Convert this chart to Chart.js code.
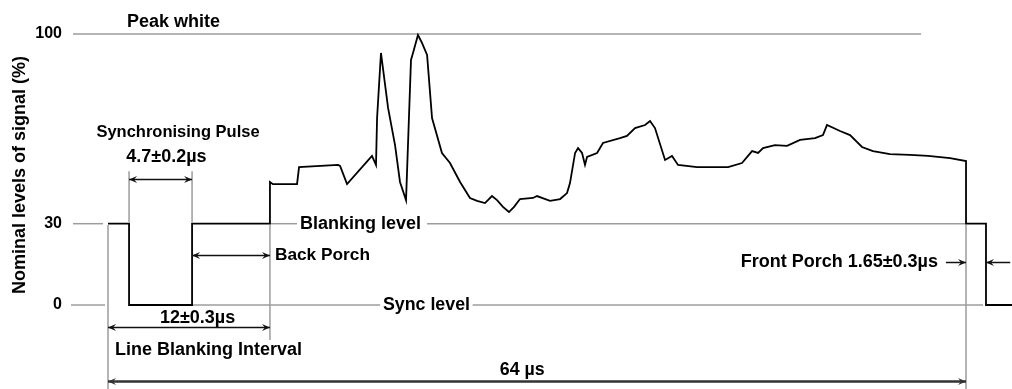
<!DOCTYPE html>
<html><head><meta charset="utf-8">
<script src="https://cdn.jsdelivr.net/npm/chart.js@4.4.1/dist/chart.umd.min.js"></script>
<style>html,body{margin:0;padding:0;background:#fff;overflow:hidden;}</style>
</head><body>
<canvas id="c" width="1012" height="389"></canvas>
<script>
// ---- data (time in microseconds, level in % of nominal signal) ----
const timeUs = [0, 1.57, 1.57, 6.27, 6.27, 12.08, 12.08, 12.3, 14.1, 14.25, 17.16, 17.31, 17.83, 19.69, 19.99, 20.07, 20.36,
  20.89, 21.41, 21.78, 22.23, 22.6, 22.75, 23.12, 23.42, 23.80, 24.17, 24.91, 25.51, 26.26, 27.00, 27.53, 28.12, 28.64, 29.02,
  29.46, 29.91, 30.29, 30.73, 31.70, 32.00, 32.97, 33.72, 34.24, 34.46, 34.84, 35.06, 35.36, 35.58, 35.73, 36.48, 36.92, 38.19,
  38.71, 39.31, 40.06, 40.43, 40.80, 41.55, 42.07, 42.52, 43.94, 46.25, 47.29, 48.04, 48.49, 48.86, 49.75, 50.65, 51.62, 52.74,
  53.33, 53.63, 54.60, 55.35, 56.24, 57.06, 58.33, 59.82, 61.17, 62.81, 64.0, 64.0, 65.49, 65.49, 67.43];
const levelPct = [30, 30, 0, 0, 30, 30, 45.4, 44.6, 44.6, 50.9, 51.7, 51.3, 44.6, 55.0, 51.7, 69.0, 93.0,
  72.7, 59.0, 45.4, 38.7, 90.4, 93.0, 99.6, 96.7, 92.3, 69.0, 56.1, 52.4, 45.4, 39.5, 38.4, 37.6, 40.2, 38.7,
  36.2, 34.3, 36.2, 39.1, 39.5, 40.2, 38.4, 39.1, 41.3, 45.0, 56.1, 57.9, 56.1, 51.7, 54.6, 56.1, 59.8, 61.6,
  62.4, 65.3, 66.4, 67.9, 65.3, 53.5, 55.0, 51.7, 50.9, 50.9, 52.4, 56.8, 56.1, 57.9, 59.0, 58.7, 60.9, 61.6,
  62.7, 66.4, 64.2, 62.7, 58.3, 56.8, 55.7, 55.4, 55.0, 54.2, 53.1, 30, 30, 0, 0];
const yTickValues = [0, 30, 100];
const yTitle = 'Nominal levels of signal (%)';

// reference levels: [level, startUs, endUs]
const refLevel = [100, 30, 30, 30, 0, 0, 0];
const refStart = [-2.61, -2.61, 12.08, 23.8, -2.76, 6.27, 27.2];
const refEnd   = [60.65, -0.37, 14.1, 64.0, -0.22, 20.3, 65.27];

// vertical guide lines
const guideTime   = [0, 1.57, 6.27, 12.08, 64.0];
const guideTop    = [29.5, 49.4, 49.4, 29.5, 29.5];
const guideBottom = [-31, 30.5, 30.5, -12.9, -31];

// dimension arrows
const arrowFrom  = [1.57, 6.27, 0, 0, 62.5, 67.3];
const arrowTo    = [6.27, 12.08, 12.08, 64.0, 64.0, 65.49];
const arrowLevel = [46.5, 18.5, -8.1, -28.0, 15.9, 15.9];
const arrowBoth  = [true, true, true, true, false, false];

// annotation texts
const labelText  = ['Peak white', 'Synchronising Pulse', '4.7\u00B10.2\u00B5s', 'Blanking level', 'Back Porch',
  'Sync level', '12\u00B10.3\u00B5s', 'Line Blanking Interval', '64 \u00B5s', 'Front Porch 1.65\u00B10.3\u00B5s'];
const labelTime  = [1.42, 5.22, 4.36, 14.32, 12.45, 20.51, 6.68, 0.52, 30.9, 61.91];
const labelLevel = [104.4, 63.5, 54.6, 30, 18.5, 0, -4.8, -16.6, -24.0, 15.9];
const labelAlign = ['left', 'center', 'center', 'left', 'left', 'left', 'center', 'left', 'center', 'right'];
const labelSize  = [18, 16.5, 18, 18, 17.3, 17.8, 18, 18, 17.8, 18];

const FONT = '"Liberation Sans", Arial, sans-serif';
const GREY = '#9c9c9c';

const datasets = [{
  data: timeUs.map((t, i) => ({x: t, y: levelPct[i]})),
  borderColor: '#000', borderWidth: 1.8, pointRadius: 0, tension: 0, order: 0
}];
refLevel.forEach((lv, i) => {
  datasets.push({
    data: [{x: refStart[i], y: lv}, {x: refEnd[i], y: lv}],
    borderColor: GREY, borderWidth: 1.5, pointRadius: 0, order: 1
  });
});

function arrowHead(ctx, xTip, yv, dir) {
  ctx.beginPath();
  ctx.moveTo(xTip, yv);
  ctx.lineTo(xTip - dir * 8, yv - 3.5);
  ctx.lineTo(xTip - dir * 5, yv);
  ctx.lineTo(xTip - dir * 8, yv + 3.5);
  ctx.closePath();
  ctx.fill();
}

const annot = {
  id: 'annot',
  beforeDatasetsDraw(chart) {
    const {ctx, scales: {x, y}} = chart;
    ctx.save();
    ctx.strokeStyle = GREY; ctx.lineWidth = 1.5;
    guideTime.forEach((t, i) => {
      const px = x.getPixelForValue(t);
      ctx.beginPath();
      ctx.moveTo(px, y.getPixelForValue(guideTop[i]));
      ctx.lineTo(px, y.getPixelForValue(guideBottom[i]));
      ctx.stroke();
    });
    ctx.restore();
  },
  afterDraw(chart) {
    const {ctx, scales: {x, y}} = chart;
    ctx.save();
    arrowFrom.forEach((f, i) => {
      const x1 = x.getPixelForValue(f), x2 = x.getPixelForValue(arrowTo[i]);
      const yy = Math.round(y.getPixelForValue(arrowLevel[i])) + 0.5;
      const big = i === 3;
      ctx.strokeStyle = big ? '#333' : '#111';
      ctx.fillStyle = big ? '#333' : '#111';
      ctx.lineWidth = big ? 2.5 : 1.5;
      ctx.beginPath(); ctx.moveTo(x1, yy); ctx.lineTo(x2, yy); ctx.stroke();
      const dir = x2 > x1 ? 1 : -1;
      arrowHead(ctx, x2, yy, dir);
      if (arrowBoth[i]) arrowHead(ctx, x1, yy, -dir);
    });
    ctx.fillStyle = '#000';
    ctx.textBaseline = 'middle';
    labelText.forEach((s, i) => {
      ctx.font = 'bold ' + labelSize[i] + 'px ' + FONT;
      ctx.textAlign = labelAlign[i];
      ctx.fillText(s, x.getPixelForValue(labelTime[i]), y.getPixelForValue(labelLevel[i]));
    });
    ctx.restore();
  }
};

new Chart(document.getElementById('c'), {
  type: 'line',
  data: {datasets},
  options: {
    responsive: false, animation: false, devicePixelRatio: 1,
    layout: {padding: {left: 0, right: 0, top: 0, bottom: 39}},
    plugins: {legend: {display: false}, tooltip: {enabled: false}},
    scales: {
      x: {type: 'linear', display: false, min: -2.835, max: 67.43},
      y: {
        type: 'linear', position: 'left', min: -16.605, max: 112.546,
        afterBuildTicks: s => { s.ticks = yTickValues.map(v => ({value: v})); },
        afterFit: s => { s.width = 70; s.paddingTop = 0; s.paddingBottom = 0; },
        grid: {display: false, drawTicks: false},
        border: {display: false},
        ticks: {padding: 8, color: '#000', font: {family: FONT, size: 16, weight: 'bold'}},
        title: {display: true, text: yTitle, color: '#000', padding: {top: 9, bottom: 0},
          font: {family: FONT, size: 18, weight: 'bold'}}
      }
    }
  },
  plugins: [annot]
});
</script>
</body></html>
